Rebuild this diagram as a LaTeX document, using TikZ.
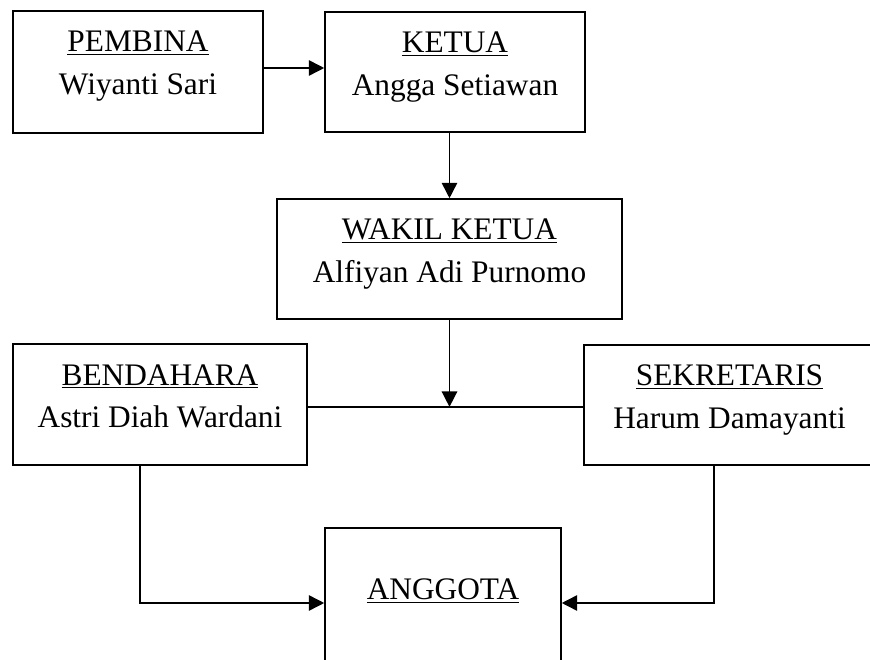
\documentclass[tikz,border=0pt]{standalone}
\usepackage{fontspec}
\setmainfont{Liberation Serif}
\usetikzlibrary{arrows.meta}
\usetikzlibrary{positioning}

\tikzset{
  jabatan/.style={draw, line width=1.1pt, inner sep=0pt,
    font=\fontsize{22.3}{30}\selectfont},
  panah/.style={line width=1.1pt, -{Triangle[length=11pt,width=11pt]}},
  garis/.style={line width=1.1pt}
}
\newcommand{\isikotak}[4]{%
  \begin{minipage}[c][#2][t]{#1}\centering
  \rule{0pt}{1.025cm}\underline{#3}\\#4\end{minipage}}

\begin{document}
\begin{tikzpicture}
\clip (0,0) rectangle (21.75,16.5);
\node[jabatan] (pembina) at (3.45,14.7)
  {\isikotak{6.25cm}{3.05cm}{PEMBINA}{Wiyanti Sari}};
\node[jabatan] (ketua) at (11.375,14.7)
  {\isikotak{6.5cm}{3cm}{KETUA}{Angga Setiawan}};
\node[jabatan] (wakil) at (11.2375,10.025)
  {\isikotak{8.625cm}{3cm}{WAKIL KETUA}{Alfiyan Adi Purnomo}};
\node[jabatan] (bendahara) at (4,6.3875)
  {\isikotak{7.35cm}{3.025cm}{BENDAHARA}{Astri Diah Wardani}};
\node[jabatan] (sekretaris) at (18.2375,6.375)
  {\isikotak{7.275cm}{3cm}{SEKRETARIS}{Harum Damayanti}};
\node[jabatan] (anggota) at (11.075,1.425)
  {\begin{minipage}[c][3.75cm][t]{5.9cm}\centering
   \rule{0pt}{1.8cm}\underline{ANGGOTA}\end{minipage}};
\path
  coordinate (kiri) at ([yshift=-0.06cm]bendahara.east)
  coordinate (tengah) at (wakil.south |- kiri)
  coordinate (kanan) at (kiri -| sekretaris.west)
  ;
\draw[panah] ([yshift=0.1cm]pembina.east) -- ([yshift=0.1cm]pembina.east -| ketua.west);
\draw[panah] (wakil.north |- ketua.south) -- (wakil.north);
\draw[garis] (kiri) -- (kanan);
\draw[panah] (wakil.south) -- (tengah);
\draw[panah] ([xshift=-0.5cm]bendahara.south) |- (anggota.west);
\draw[panah] ([xshift=-0.39cm]sekretaris.south) |- (anggota.east);
\end{tikzpicture}
\end{document}
